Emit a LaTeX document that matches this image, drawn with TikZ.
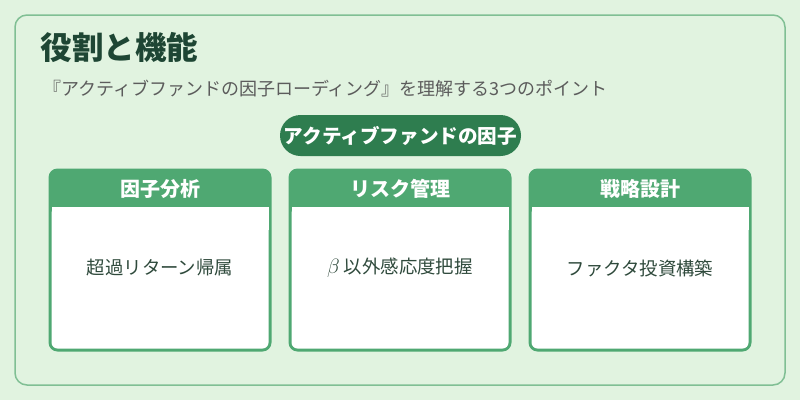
\documentclass[tikz,border=0pt]{standalone}
\usepackage{fontspec}
\setmainfont{Noto Sans CJK JP}
\definecolor{bgc}{HTML}{E1F3E0}
\definecolor{outerc}{HTML}{80BF94}
\definecolor{pillc}{HTML}{2E7D4F}
\definecolor{cardc}{HTML}{4FA872}
\definecolor{titlec}{HTML}{1E4634}
\definecolor{subc}{HTML}{5C5C5C}
\definecolor{bodyc}{HTML}{2F4A3C}
\newcommand{\bigbeta}{{\fontsize{22}{22}\selectfont$\beta$}}
\begin{document}
\begin{tikzpicture}[x=1pt,y=-1pt,
  cardhead/.style={font=\fontsize{20}{22}\selectfont\bfseries, text=white},
  cardbody/.style={font=\fontsize{18.4}{20}\selectfont, text=bodyc},
]
\useasboundingbox (0,0) rectangle (800,400);
\fill[bgc] (0,0) rectangle (800,400);
\draw[outerc, line width=1.5pt, rounded corners=12pt] (15,15) rectangle (785,385);
\node[anchor=west, text=titlec, font=\fontsize{31.5}{34}\selectfont\bfseries, inner sep=0pt] (title) at (40.5,47) {役割と機能};
\node[anchor=west, text=subc, font=\fontsize{18}{20}\selectfont, inner sep=0pt] (sub) at (43,89) {『アクティブファンドの因子ローディング』を理解する3つのポイント};
\node[fill=pillc, rounded corners=20.5pt, minimum width=241pt, minimum height=41pt, inner sep=0pt, text=white, font=\fontsize{19.6}{21}\selectfont\bfseries] (pill) at (400.5,135.5) {アクティブファンドの因子};
\foreach \i/\x/\h/\b in {1/50/因子分析/超過リターン帰属, 2/290/リスク管理/{\bigbeta\ 以外感応度把握}, 3/530/戦略設計/ファクタ投資構築}{
  \fill[cardc, rounded corners=9pt] (\x-1.5,168.5) rectangle (\x+221.5,351.5);
  \fill[white, rounded corners=6pt] (\x+1.5,207) rectangle (\x+218.5,348.5);
  \fill[white] (\x+1.5,207) rectangle (\x+218.5,230);
  \node[cardhead] (h\i) at (\x+110,189) {\h};
  \node[cardbody] (b\i) at (\x+110,268) {\b};
}
\end{tikzpicture}
\end{document}
